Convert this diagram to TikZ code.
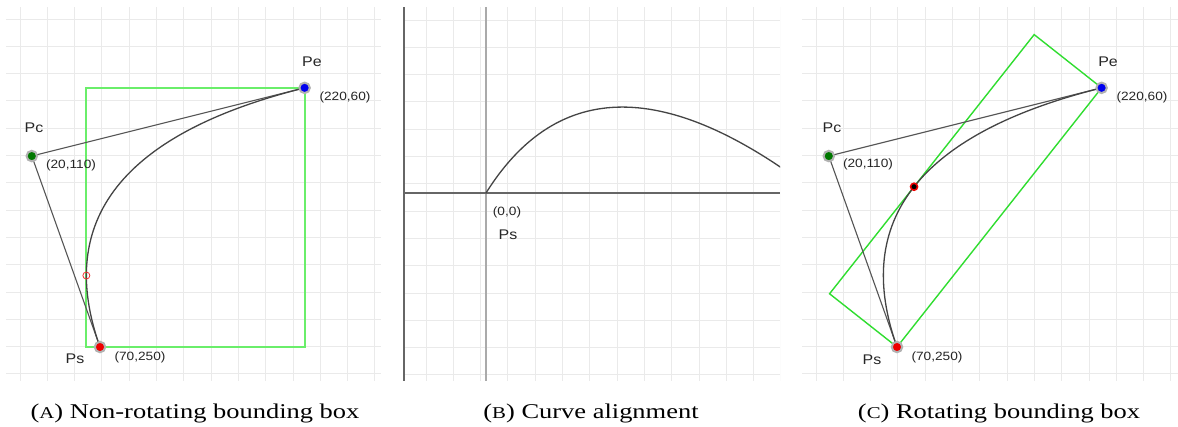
\documentclass[tikz,border=0pt]{standalone}
\usepackage{fontspec}
\setmainfont{Liberation Serif}
\newfontfamily\lsans{Liberation Sans}
\usetikzlibrary{calc}
\definecolor{gridc}{HTML}{EAEAEA}
\definecolor{ctrlc}{HTML}{555555}
\definecolor{curvec}{HTML}{444444}
\definecolor{boxa}{HTML}{6AEE6A}
\definecolor{boxc}{HTML}{30DD30}
\definecolor{psred}{HTML}{EE0000}
\definecolor{peblue}{HTML}{0000EE}
\definecolor{pcgreen}{HTML}{007700}
\definecolor{axisl}{HTML}{AAAAAA}
\definecolor{axisd}{HTML}{666666}
\newcommand{\fakesc}[1]{{\fontsize{16.5}{16.5}\selectfont #1}}
\tikzset{
  gridline/.style={draw=gridc, line width=1pt},
  ctrl/.style={draw=ctrlc, line width=1.1pt},
  curve/.style={draw=curvec, line width=1.3pt},
  ptmark/.style={circle, minimum size=10.5pt, inner sep=0pt, draw=gray!60, line width=2pt},
  extr/.style={circle, minimum size=7pt, inner sep=0pt, draw=psred!80, line width=0.8pt},
  middot/.style={circle, minimum size=7pt, inner sep=0pt, fill=black, draw=psred, line width=1.6pt},
  big/.style={font=\lsans\fontsize{14}{14}\selectfont, text=black!85, inner sep=0pt, xscale=1.14},
  small/.style={font=\lsans\fontsize{12}{12}\selectfont, text=black!85, inner sep=0pt, xscale=1.14},
  captext/.style={font=\fontsize{21}{21}\selectfont, anchor=base, inner sep=0pt, xscale=1.26},
}
\begin{document}
\begin{tikzpicture}[x=1pt,y=-1pt]
\useasboundingbox[fill=white] (0,0) rectangle (1178,426);

% ---------- grids ----------
\foreach \i in {0,...,13} {
  \draw[gridline] ({20+27.3*\i},7) -- ({20+27.3*\i},381);
  \draw[gridline] (6,{19+27.3*\i}) -- (381,{19+27.3*\i});
  \draw[gridline] ({816+27.3*\i},7) -- ({816+27.3*\i},381);
  \draw[gridline] (802,{19+27.3*\i}) -- (1178,{19+27.3*\i});
}
\begin{scope}
  \clip (404,7) rectangle (780,381);
  \foreach \i in {0,...,13} {
    \draw[gridline] ({426+27.3*\i},7) -- ({426+27.3*\i},381);
    \draw[gridline] (404,{20+27.3*\i}) -- (780,{20+27.3*\i});
  }
\end{scope}

% ---------- panel A ----------
\begin{scope}[shift={(4.52,6)}, x=1.364pt, y=-1.364pt]
  \coordinate (aPs) at (70,250);
  \coordinate (aPc) at (20,110);
  \coordinate (aPe) at (220,60);
  \coordinate (aExt) at (60,197.6);
\end{scope}
\draw[draw=boxa, line width=2pt] (aExt |- aPe) rectangle (aPe |- aPs);
\draw[ctrl] (aPs) -- (aPc) -- (aPe);
\draw[curve] (aPs) .. controls ($(aPs)!2/3!(aPc)$) and ($(aPe)!2/3!(aPc)$) .. (aPe);
\node[extr] (aExtMark) at (aExt) {};
\node[ptmark, fill=psred] (aPsMark) at (aPs) {};
\node[ptmark, fill=pcgreen] (aPcMark) at (aPc) {};
\node[ptmark, fill=peblue] (aPeMark) at (aPe) {};
\node[big] (aPeLab) at (312,62) {Pe};
\node[small] (aPeCo) at (345,97) {(220,60)};
\node[big] (aPcLab) at (34,128) {Pc};
\node[small] (aPcCo) at (71,165) {(20,110)};
\node[big] (aPsLab) at (75,359) {Ps};
\node[small] (aPsCo) at (140,357) {(70,250)};

% ---------- panel B ----------
\coordinate (bTop) at (486,7);
\coordinate (bBot) at (486,381);
\coordinate (bLT) at (404,7);
\coordinate (bLB) at (404,381);
\coordinate (bLeft) at (404,193);
\coordinate (bRight) at (780,193);
\draw[draw=axisl, line width=2.4pt] (bTop) -- (bBot);
\draw[draw=axisd, line width=1.2pt] (bLT) -- (bLB);
\draw[draw=axisd, line width=1.1pt] (bLeft) -- (bRight);
\begin{scope}
  \clip (404,7) rectangle (780,381);
  \begin{scope}[shift={(486,193)}, x=1.364pt, y=1.364pt]
    \coordinate (bO) at (0,0);
    \coordinate (bE) at (242.07,0);
    \draw[curve] (bO) .. controls (52.6,84.0) and (133.29,84.0) .. (bE);
  \end{scope}
\end{scope}
\node[small] (bOCo) at (507,212) {(0,0)};
\node[big] (bPsLab) at (508,235) {Ps};

% ---------- panel C ----------
\begin{scope}[shift={(801.52,6)}, x=1.364pt, y=-1.364pt]
  \coordinate (cPs) at (70,250);
  \coordinate (cPc) at (20,110);
  \coordinate (cPe) at (220,60);
  \coordinate (cMid) at (82.5,132.5);
\end{scope}
\coordinate (cProj) at ($(cPs)!(cPc)!(cPe)$);
\coordinate (cHalf) at ($(cProj)!.5!(cPc)$);
\coordinate (cK1) at ($(cPs)+(cHalf)-(cProj)$);
\coordinate (cK2) at ($(cPe)+(cHalf)-(cProj)$);
\draw[draw=boxc, line width=1.4pt] (cPs) -- (cPe) -- (cK2) -- (cK1) -- cycle;
\draw[ctrl] (cPs) -- (cPc) -- (cPe);
\draw[curve] (cPs) .. controls ($(cPs)!2/3!(cPc)$) and ($(cPe)!2/3!(cPc)$) .. (cPe);
\node[middot] (cMidMark) at (cMid) {};
\node[ptmark, fill=psred] (cPsMark) at (cPs) {};
\node[ptmark, fill=pcgreen] (cPcMark) at (cPc) {};
\node[ptmark, fill=peblue] (cPeMark) at (cPe) {};
\node[big] (cPeLab) at (1108,62) {Pe};
\node[small] (cPeCo) at (1142,97) {(220,60)};
\node[big] (cPcLab) at (832,128) {Pc};
\node[small] (cPcCo) at (868,164) {(20,110)};
\node[big] (cPsLab) at (872,360) {Ps};
\node[small] (cPsCo) at (937,357) {(70,250)};

% ---------- captions ----------
\node[captext] (capA) at (195,418) {(\fakesc{A}) Non-rotating bounding box};
\node[captext] (capB) at (591,418) {(\fakesc{B}) Curve alignment};
\node[captext] (capC) at (999,418) {(\fakesc{C}) Rotating bounding box};
\end{tikzpicture}
\end{document}
